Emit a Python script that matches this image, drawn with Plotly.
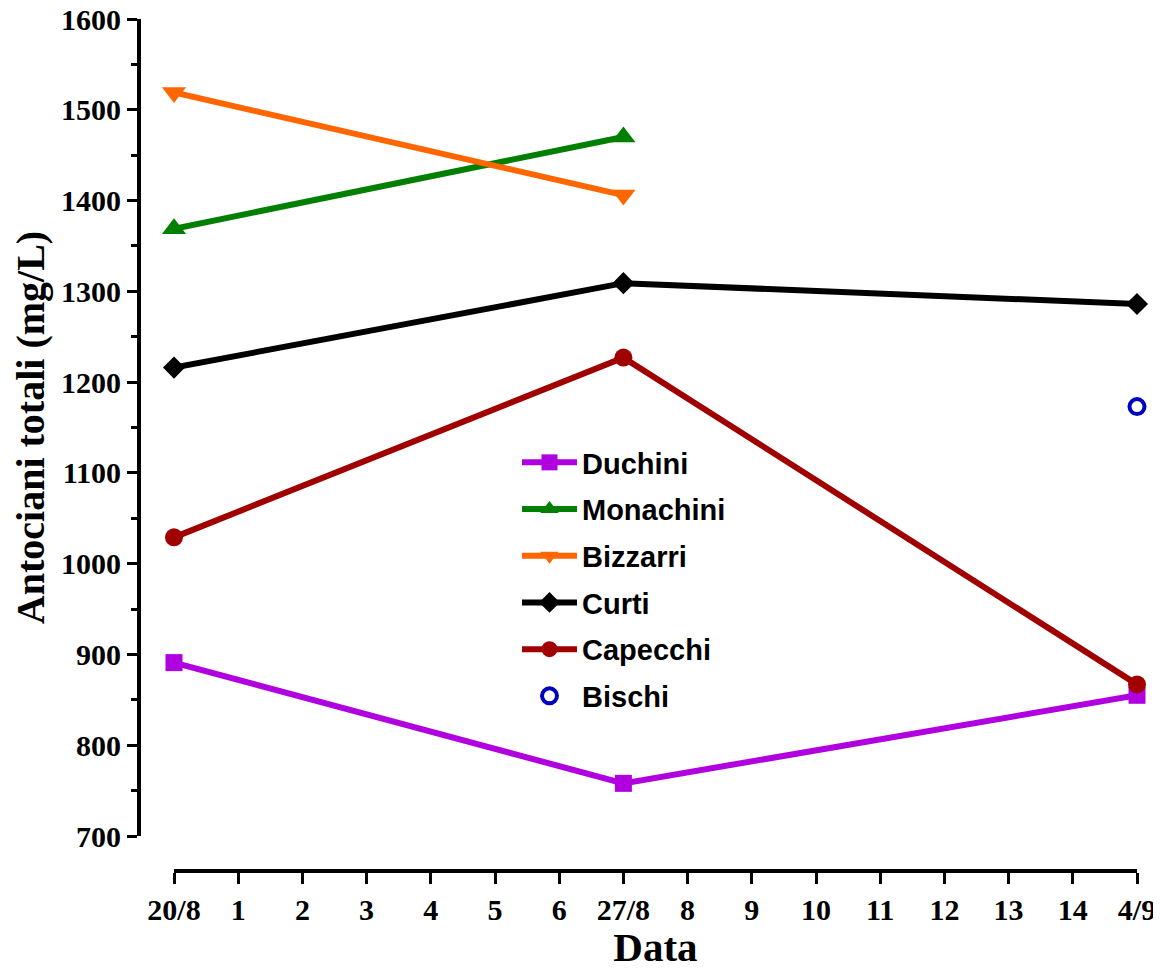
import plotly.graph_objects as go

# ---- data ----
date_labels = ["20/8", "27/8", "4/9"]
date_pos = [0, 7, 15]
tick_vals = list(range(0, 16))
tick_text = ["20/8", "1", "2", "3", "4", "5", "6", "27/8", "8", "9", "10", "11", "12", "13", "14", "4/9"]

duchini = [891, 758, 855]
monachini = [1369, 1470, None]
bizzarri = [1519, 1406, None]
curti = [1216, 1309, 1286]
capecchi = [1029, 1227, 867]
bischi = [None, None, 1173]

series = [
    ("Duchini", duchini, "#b000e0", "square", 17, True),
    ("Monachini", monachini, "#007f00", "triangle-up", 21, True),
    ("Bizzarri", bizzarri, "#ff6600", "triangle-down", 21, True),
    ("Curti", curti, "#000000", "diamond", 17, True),
    ("Capecchi", capecchi, "#a00000", "circle", 18, True),
    ("Bischi", bischi, "#0000c0", "circle-open", 15, False),
]

fig = go.Figure()
for name, vals, color, symbol, size, has_line in series:
    if has_line:
        fig.add_trace(go.Scatter(
            x=date_pos, y=vals, name=name, mode="lines+markers",
            line=dict(color=color, width=6),
            marker=dict(symbol=symbol, size=size, color=color),
            cliponaxis=False, legendgroup=name,
        ))
    else:
        fig.add_trace(go.Scatter(
            x=date_pos, y=vals, name=name, mode="markers",
            marker=dict(symbol=symbol, size=size, color=color,
                        line=dict(color=color, width=4)),
            cliponaxis=False, legendgroup=name,
        ))

# page body has an 8px offset
OFF = 8
W, H = 1161 - OFF, 970 - OFF
L, T = 139 - OFF, 19 - OFF
R = W - (1137 - OFF)
B = H - (871 - OFF)
pw = W - L - R
ph = H - T - B


def px_x(x):
    return (x - OFF - L) / pw


def px_y(y):
    return 1 - (y - OFF - T) / ph


fig.update_layout(
    width=W, height=H,
    margin=dict(l=L, r=R, t=T, b=B, autoexpand=False),
    plot_bgcolor="white", paper_bgcolor="white",
    showlegend=True,
    legend=dict(
        x=px_x(517), y=px_y(437), xanchor="left", yanchor="top",
        font=dict(family="Liberation Sans", size=29, color="black", weight="bold"),
        bgcolor="rgba(0,0,0,0)", tracegroupgap=6, itemwidth=55,
    ),
    xaxis=dict(
        domain=[px_x(174), 1], range=[0, 15],
        anchor="free", position=0, automargin=False, ticklabeloverflow="allow",
        tickmode="array", tickvals=tick_vals, ticktext=tick_text,
        ticks="outside", ticklen=11, tickwidth=3, tickcolor="black",
        showline=True, linecolor="black", linewidth=4,
        showgrid=False, zeroline=False,
        tickfont=dict(family="Liberation Serif", size=30, color="black", weight="bold"),
        title=dict(text="Data", standoff=4,
                   font=dict(family="Liberation Serif", size=41, color="black", weight="bold")),
    ),
    yaxis=dict(
        domain=[px_y(836), 1], range=[700, 1600],
        anchor="free", position=0, automargin=False, ticklabeloverflow="allow",
        tickmode="linear", tick0=700, dtick=100,
        ticks="outside", ticklen=10, tickwidth=3, tickcolor="black",
        minor=dict(dtick=50, ticks="outside", ticklen=6, tickwidth=3, tickcolor="black", showgrid=False),
        showline=True, linecolor="black", linewidth=4,
        showgrid=False, zeroline=False,
        tickfont=dict(family="Liberation Serif", size=30, color="black", weight="bold"),
        title=dict(text="Antociani totali (mg/L)", standoff=12,
                   font=dict(family="Liberation Serif", size=40, color="black", weight="bold")),
    ),
)

fig.write_html("out.html")
